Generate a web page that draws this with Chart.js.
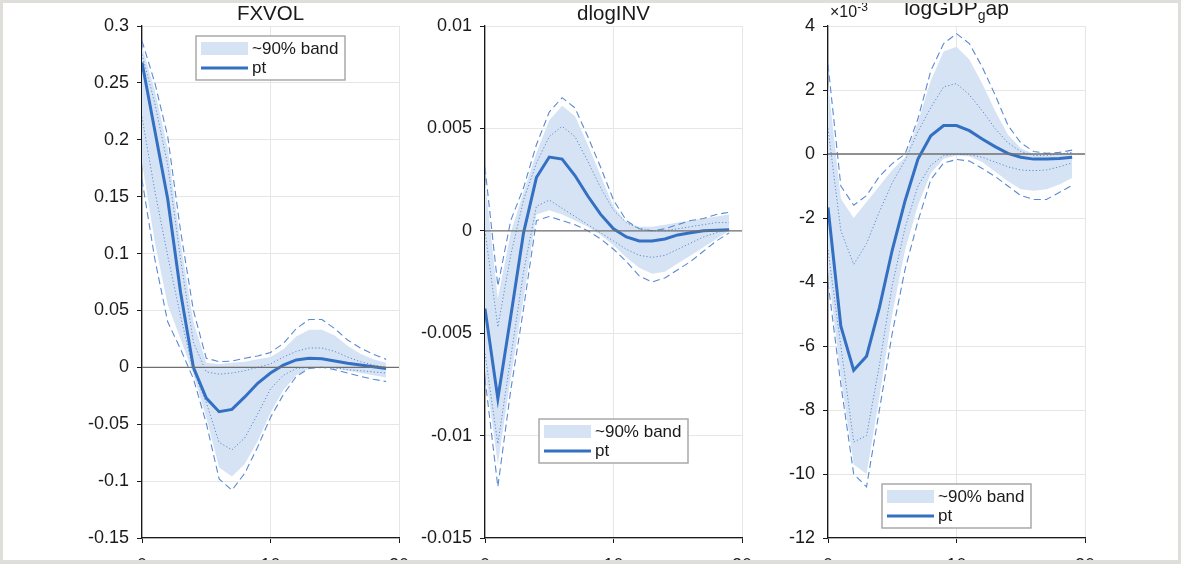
<!DOCTYPE html>
<html>
<head>
<meta charset="utf-8">
<script src="https://cdn.jsdelivr.net/npm/chart.js@4/dist/chart.umd.min.js"></script>
<style>
  html, body { margin: 0; padding: 0; background: #dfdedb; }
  #frame { position: absolute; left: 3px; top: 3px; width: 1175px; height: 557px; background: #fff; overflow: hidden; }
  .panel { position: absolute; top: 0; width: 369px; height: 557px; }
</style>
</head>
<body>
<div id="frame">
  <div class="panel" style="left:49px"><canvas id="c1"></canvas></div>
  <div class="panel" style="left:392px"><canvas id="c2"></canvas></div>
  <div class="panel" style="left:735px"><canvas id="c3"></canvas></div>
</div>
<script>
// impulse responses, horizon 0..19
var horizon = [0, 1, 2, 3, 4, 5, 6, 7, 8, 9, 10, 11, 12, 13, 14, 15, 16, 17, 18, 19];
var xTicks = [0, 10, 20];

// FXVOL
var fxPt     = [0.268, 0.208, 0.148, 0.066, 0.000, -0.027, -0.039, -0.037, -0.026, -0.014, -0.005, 0.002, 0.0065, 0.008, 0.0075, 0.0055, 0.0035, 0.002, 0.0005, -0.001];
var fxBandHi = [0.282, 0.243, 0.193, 0.110, 0.040, 0.004, 0.003, 0.004, 0.005, 0.007, 0.009, 0.016, 0.027, 0.033, 0.033, 0.028, 0.019, 0.012, 0.007, 0.004];
var fxBandLo = [0.180, 0.110, 0.055, 0.025, -0.006, -0.044, -0.088, -0.096, -0.085, -0.065, -0.040, -0.020, -0.007, -0.001, 0.000, -0.001, -0.003, -0.005, -0.007, -0.009];
var fxDashHi = [0.287, 0.250, 0.203, 0.120, 0.050, 0.008, 0.005, 0.0055, 0.008, 0.010, 0.013, 0.021, 0.034, 0.042, 0.042, 0.034, 0.024, 0.017, 0.0115, 0.007];
var fxDashLo = [0.165, 0.095, 0.040, 0.016, -0.010, -0.049, -0.098, -0.108, -0.093, -0.070, -0.044, -0.024, -0.008, -0.001, 0.000, -0.002, -0.005, -0.008, -0.0105, -0.0125];
var fxDotHi  = [0.275, 0.232, 0.178, 0.095, 0.022, -0.004, -0.006, -0.005, -0.003, 0.000, 0.003, 0.009, 0.014, 0.017, 0.017, 0.014, 0.009, 0.005, 0.002, 0.000];
var fxDotLo  = [0.220, 0.155, 0.098, 0.045, -0.003, -0.031, -0.066, -0.0725, -0.062, -0.041, -0.019, -0.007, -0.001, 0.000, 0.000, -0.0005, -0.002, -0.003, -0.004, -0.005];
var fxYTicks = [-0.15, -0.1, -0.05, 0, 0.05, 0.1, 0.15, 0.2, 0.25, 0.3];

// dlogINV
var invPt     = [-0.0038, -0.0082, -0.0042, -0.0001, 0.0026, 0.0036, 0.0035, 0.0027, 0.0017, 0.0008, 0.0001, -0.0003, -0.0005, -0.0005, -0.0004, -0.0002, -0.0001, 0.0000, 0.00003, 0.00005];
var invBandHi = [0.0025, -0.0033, -0.0001, 0.0019, 0.0038, 0.0054, 0.0061, 0.0056, 0.0042, 0.0027, 0.0012, 0.0004, 0.0002, 0.0002, 0.0003, 0.0004, 0.0005, 0.0006, 0.0007, 0.0008];
var invBandLo = [-0.0068, -0.0114, -0.0072, -0.0033, 0.0008, 0.0010, 0.0008, 0.0005, 0.0002, -0.0002, -0.0007, -0.0013, -0.0018, -0.0021, -0.0020, -0.0016, -0.0012, -0.0008, -0.0004, 0.0000];
var invDashHi = [0.0031, -0.0027, 0.0005, 0.0021, 0.0042, 0.0058, 0.0065, 0.0060, 0.0046, 0.0031, 0.0015, 0.0005, 0.0001, 0.0000, 0.0001, 0.0003, 0.0005, 0.0006, 0.0008, 0.0009];
var invDashLo = [-0.0072, -0.0125, -0.0078, -0.0038, 0.0005, 0.0007, 0.0005, 0.0003, 0.0000, -0.0004, -0.0009, -0.0015, -0.0022, -0.0025, -0.0023, -0.0019, -0.0015, -0.0010, -0.0005, -0.0001];
var invDotHi  = [0.0000, -0.0047, -0.0012, 0.0015, 0.0033, 0.0046, 0.0051, 0.0046, 0.0034, 0.0021, 0.0010, 0.0004, 0.0001, 0.0000, 0.0000, 0.0001, 0.0002, 0.0003, 0.0004, 0.0004];
var invDotLo  = [-0.0060, -0.0104, -0.0062, -0.0020, 0.0012, 0.0015, 0.0011, 0.0007, 0.0003, -0.0001, -0.0005, -0.0009, -0.0012, -0.0013, -0.0012, -0.0009, -0.0006, -0.0003, -0.0001, 0.0001];
var invYTicks = [-0.015, -0.01, -0.005, 0, 0.005, 0.01];

// logGDP_gap, in units of 1e-3
var gdpPt     = [-1.67, -5.38, -6.76, -6.32, -4.8, -3.0, -1.46, -0.16, 0.57, 0.89, 0.89, 0.73, 0.47, 0.23, 0.02, -0.10, -0.16, -0.16, -0.14, -0.10];
var gdpBandHi = [2.2, -1.4, -2.0, -1.5, -1.0, -0.5, -0.1, 1.0, 2.3, 3.2, 3.35, 2.95, 2.2, 1.35, 0.6, 0.18, 0.0, -0.05, 0.0, 0.05];
var gdpBandLo = [-3.6, -7.0, -9.7, -10.0, -7.6, -5.0, -3.0, -1.6, -0.6, -0.15, -0.05, -0.08, -0.25, -0.55, -0.85, -1.1, -1.15, -1.1, -0.95, -0.75];
var gdpDashHi = [2.8, -1.0, -1.6, -1.3, -0.7, -0.3, 0.0, 1.1, 2.6, 3.45, 3.76, 3.45, 2.72, 1.85, 0.9, 0.35, 0.08, 0.02, 0.05, 0.12];
var gdpDashLo = [-4.0, -7.2, -10.0, -10.4, -8.0, -5.6, -3.6, -2.1, -0.8, -0.28, -0.17, -0.22, -0.45, -0.7, -1.0, -1.3, -1.42, -1.42, -1.2, -0.98];
var gdpDotHi  = [0.8, -2.4, -3.45, -2.8, -1.8, -0.9, -0.2, 0.7, 1.45, 2.1, 2.2, 1.85, 1.35, 0.8, 0.35, 0.08, -0.05, -0.05, 0.0, 0.05];
var gdpDotLo  = [-3.0, -6.0, -9.0, -8.8, -6.6, -4.1, -2.3, -1.0, -0.35, -0.05, 0.0, -0.02, -0.1, -0.25, -0.4, -0.5, -0.52, -0.5, -0.4, -0.28];
var gdpYTicks = [-12, -10, -8, -6, -4, -2, 0, 2, 4];

var FONT = '"Liberation Sans", Arial, sans-serif';
var LINE = '#3470c2';
var BAND = '#d6e3f5';
var EDGE = '#5a8ad0';

function pts(arr) {
    return arr.map((v, i) => ({ x: horizon[i], y: v }));
}

// zero line, title and the in-axes legend
var panelDeco = {
    id: 'panelDeco',
    afterDatasetsDraw(chart, args, opts) {
        var ctx = chart.ctx, a = chart.chartArea;
        var y0 = chart.scales.y.getPixelForValue(0);
        ctx.save();
        ctx.strokeStyle = '#6f6f6f';
        ctx.lineWidth = 1.3;
        ctx.beginPath();
        ctx.moveTo(a.left, y0);
        ctx.lineTo(a.right, y0);
        ctx.stroke();
        ctx.restore();
    },
    afterDraw(chart, args, opts) {
        var ctx = chart.ctx, a = chart.chartArea;
        var cx = (a.left + a.right) / 2;
        ctx.save();
        ctx.fillStyle = '#1a1a1a';
        ctx.textBaseline = 'alphabetic';
        if (opts.sub) {
            ctx.font = '21px ' + FONT;
            var w1 = ctx.measureText(opts.title).width;
            var w3 = ctx.measureText(opts.tail).width;
            ctx.font = '14px ' + FONT;
            var w2 = ctx.measureText(opts.sub).width;
            var x = cx - (w1 + w2 + w3) / 2;
            ctx.font = '21px ' + FONT;
            ctx.fillText(opts.title, x, 12);
            ctx.font = '14px ' + FONT;
            ctx.fillText(opts.sub, x + w1, 17);
            ctx.font = '21px ' + FONT;
            ctx.fillText(opts.tail, x + w1 + w2, 12);
        } else {
            ctx.font = '20.5px ' + FONT;
            ctx.textAlign = 'center';
            ctx.fillText(opts.title, cx, 17);
            ctx.textAlign = 'left';
        }
        if (opts.exponent) {
            ctx.font = '16px ' + FONT;
            ctx.fillText('\u00d710', a.left + 2, 14);
            var we = ctx.measureText('\u00d710').width;
            ctx.font = '12px ' + FONT;
            ctx.fillText(opts.exponent, a.left + 2 + we, 8);
        }

        // legend box
        var lx = a.left + opts.legendX, ly = a.top + opts.legendY;
        ctx.fillStyle = '#fff';
        ctx.fillRect(lx, ly, 149, 44);
        ctx.strokeStyle = '#a3a3a3';
        ctx.lineWidth = 1.4;
        ctx.strokeRect(lx, ly, 149, 44);
        ctx.fillStyle = BAND;
        ctx.fillRect(lx + 5, ly + 6, 47, 13);
        ctx.strokeStyle = LINE;
        ctx.lineWidth = 3;
        ctx.beginPath();
        ctx.moveTo(lx + 5, ly + 32);
        ctx.lineTo(lx + 52, ly + 32);
        ctx.stroke();
        ctx.fillStyle = '#1a1a1a';
        ctx.font = '17px ' + FONT;
        ctx.textBaseline = 'middle';
        ctx.fillText('~90% band', lx + 56, ly + 13);
        ctx.fillText('pt', lx + 56, ly + 32);
        ctx.restore();
    }
};

function makePanel(id, s, yTicks, deco) {
    var yMin = yTicks[0], yMax = yTicks[yTicks.length - 1];
    var edge = (data, dash, w) => ({
        data: pts(data), borderColor: EDGE, borderWidth: w, borderDash: dash,
        pointRadius: 0, tension: 0, fill: false
    });
    new Chart(document.getElementById(id), {
        type: 'line',
        data: {
            datasets: [
                { label: 'pt', data: pts(s.pt), borderColor: LINE, borderWidth: 3, pointRadius: 0, tension: 0, fill: false },
                edge(s.dotHi, [1.2, 2.2], 1),
                edge(s.dotLo, [1.2, 2.2], 1),
                edge(s.dashHi, [7, 4], 1.1),
                edge(s.dashLo, [7, 4], 1.1),
                { label: '~90% band', data: pts(s.bandHi), borderWidth: 0, pointRadius: 0, tension: 0,
                  backgroundColor: BAND, fill: '+1' },
                { data: pts(s.bandLo), borderWidth: 0, pointRadius: 0, tension: 0, fill: false }
            ]
        },
        options: {
            responsive: true,
            maintainAspectRatio: false,
            animation: false,
            layout: { padding: { top: 23, right: 22, left: 0, bottom: 0 } },
            plugins: {
                legend: { display: false },
                tooltip: { enabled: false },
                panelDeco: deco
            },
            scales: {
                x: {
                    type: 'linear', min: 0, max: 20,
                    afterBuildTicks: sc => { sc.ticks = xTicks.map(v => ({ value: v })); },
                    afterFit: sc => { sc.height = 22; sc.paddingLeft = 0; sc.paddingRight = 0; },
                    ticks: { font: { family: FONT, size: 18 }, color: '#1a1a1a', padding: 12, maxRotation: 0 },
                    grid: { color: '#e6e6e6', tickColor: '#1a1a1a', tickLength: 5 },
                    border: { color: '#1a1a1a', width: 1.3 }
                },
                y: {
                    min: yMin, max: yMax,
                    afterBuildTicks: sc => { sc.ticks = yTicks.map(v => ({ value: v })); },
                    afterFit: sc => { sc.width = 90; sc.paddingTop = 0; sc.paddingBottom = 0; },
                    ticks: {
                        font: { family: FONT, size: 18 }, color: '#1a1a1a', padding: 8,
                        callback: v => String(parseFloat(v.toFixed(4)))
                    },
                    grid: { color: '#e6e6e6', tickColor: '#1a1a1a', tickLength: 5 },
                    border: { color: '#1a1a1a', width: 1.3 }
                }
            }
        },
        plugins: [panelDeco]
    });
}

makePanel('c1', { pt: fxPt, bandHi: fxBandHi, bandLo: fxBandLo, dashHi: fxDashHi, dashLo: fxDashLo, dotHi: fxDotHi, dotLo: fxDotLo },
    fxYTicks, { title: 'FXVOL', legendX: 54, legendY: 10 });
makePanel('c2', { pt: invPt, bandHi: invBandHi, bandLo: invBandLo, dashHi: invDashHi, dashLo: invDashLo, dotHi: invDotHi, dotLo: invDotLo },
    invYTicks, { title: 'dlogINV', legendX: 54, legendY: 393 });
makePanel('c3', { pt: gdpPt, bandHi: gdpBandHi, bandLo: gdpBandLo, dashHi: gdpDashHi, dashLo: gdpDashLo, dotHi: gdpDotHi, dotLo: gdpDotLo },
    gdpYTicks, { title: 'logGDP', sub: 'g', tail: 'ap', exponent: '-3', legendX: 54, legendY: 458 });
</script>
</body>
</html>
